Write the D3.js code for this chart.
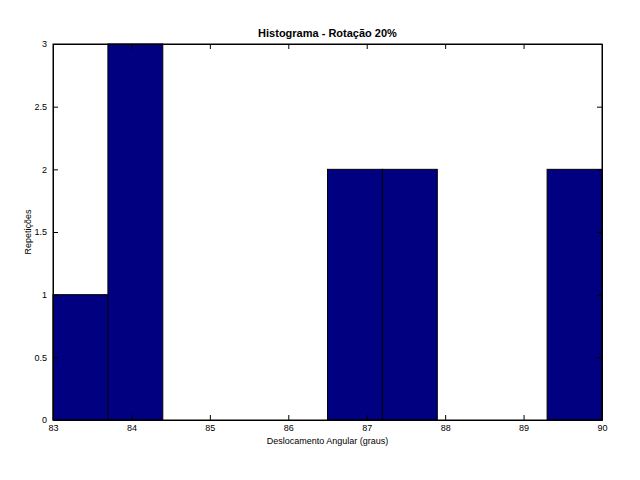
<!DOCTYPE html>
<html><head><meta charset="utf-8">
<script src="https://cdn.jsdelivr.net/npm/d3@7"></script>
<style>body{margin:0;background:#fff}</style></head>
<body><svg width="640" height="480"></svg>
<script>
const binEdges = [83,83.7,84.4,85.1,85.8,86.5,87.2,87.9,88.6,89.3,90];
const counts = [1,3,0,0,0,2,2,0,0,2];
const xTicks = [83,84,85,86,87,88,89,90];
const yTicks = [0,0.5,1,1.5,2,2.5,3];
const svg = d3.select("svg");
const L=53,R=602,T=44,B=420;
const x=d3.scaleLinear().domain([83,90]).range([L,R]);
const y=d3.scaleLinear().domain([0,3]).range([B,T]);
const bins = counts.map((c,i)=>({x0:binEdges[i],x1:binEdges[i+1],c}));
svg.selectAll("rect.bar").data(bins.filter(d=>d.c>0)).enter().append("rect")
 .attr("x",d=>x(d.x0)).attr("width",d=>x(d.x1)-x(d.x0))
 .attr("y",d=>y(d.c)).attr("height",d=>y(0)-y(d.c))
 .attr("fill","#000080").attr("stroke","#000").attr("stroke-width",1);
const f = d=>String(d);
const gx=svg.append("g").attr("transform",`translate(0,${B})`)
 .call(d3.axisBottom(x).tickValues(xTicks).tickFormat(f).tickSizeInner(-5).tickSizeOuter(0).tickPadding(5));
const gx2=svg.append("g").attr("transform",`translate(0,${T})`)
 .call(d3.axisTop(x).tickValues(xTicks).tickFormat("").tickSizeInner(-5).tickSizeOuter(0));
const gy=svg.append("g").attr("transform",`translate(${L},0)`)
 .call(d3.axisLeft(y).tickValues(yTicks).tickFormat(f).tickSizeInner(-5).tickSizeOuter(0).tickPadding(6));
const gy2=svg.append("g").attr("transform",`translate(${R},0)`)
 .call(d3.axisRight(y).tickValues(yTicks).tickFormat("").tickSizeInner(-5).tickSizeOuter(0));
svg.selectAll(".tick text").attr("font-family","Arial, Liberation Sans, sans-serif").attr("font-size",9).attr("fill","#000");
svg.selectAll(".domain, .tick line").attr("stroke","#000");
svg.append("rect").attr("x",L).attr("y",T).attr("width",R-L).attr("height",B-T).attr("fill","none").attr("stroke","#000");
svg.append("text").attr("x",(L+R)/2).attr("y",37).attr("text-anchor","middle")
 .attr("font-family","Arial, Liberation Sans, sans-serif").attr("font-size",11).attr("font-weight","bold").text("Histograma - Rotação 20%");
svg.append("text").attr("x",(L+R)/2).attr("y",444).attr("text-anchor","middle")
 .attr("font-family","Arial, Liberation Sans, sans-serif").attr("font-size",9).text("Deslocamento Angular (graus)");
svg.append("text").attr("transform",`translate(31,${(T+B)/2}) rotate(-90)`).attr("text-anchor","middle")
 .attr("font-family","Arial, Liberation Sans, sans-serif").attr("font-size",9).text("Repetições");
</script></body></html>
